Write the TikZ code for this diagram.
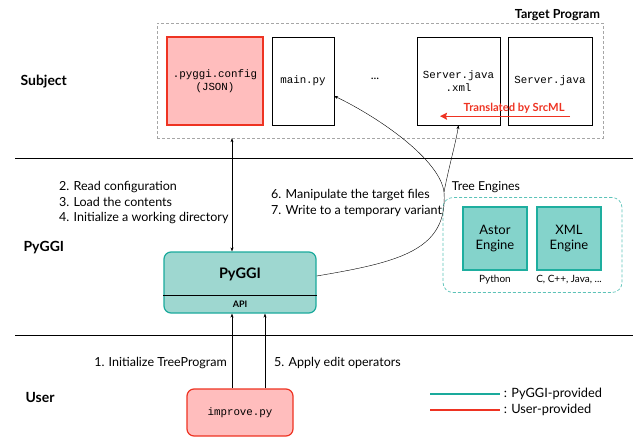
\documentclass[tikz,border=0pt]{standalone}
\usepackage{fontspec}
\setmainfont{Lato}
\setmonofont{Liberation Mono}
\usetikzlibrary{arrows.meta}
\definecolor{userred}{HTML}{EE3322}
\definecolor{userpink}{HTML}{FFBDBD}
\definecolor{pyggiteal}{HTML}{1AAA9C}
\definecolor{pyggifill}{HTML}{9ED7D0}
\definecolor{enginefill}{HTML}{84D3CB}
\definecolor{engineline}{HTML}{1EAE9F}
\definecolor{treeline}{HTML}{5CC3B8}
\tikzset{
  filebox/.style={draw, minimum height=88pt, align=center, inner sep=1pt,
    font=\ttfamily\fontsize{10.8}{12.5}\selectfont},
  userbox/.style={draw=userred, fill=userpink, line width=1.2pt},
  layer/.style={anchor=west, font=\bfseries\fontsize{14}{16}\selectfont},
  note/.style={anchor=north west, align=left, inner sep=0pt,
    font=\fontsize{12.5}{15.4}\selectfont},
  engine/.style={draw=engineline, fill=enginefill, line width=1.2pt,
    minimum width=64pt, minimum height=63pt, align=center,
    font=\fontsize{13}{14.5}\selectfont},
  small/.style={font=\fontsize{10}{11}\selectfont}
}
\begin{document}
\begin{tikzpicture}[x=1pt, y=-1pt, >={Stealth[length=4pt,width=3pt]}]
  \useasboundingbox (0,0) rectangle (633,437);
  % layers
  \draw (15,158) -- (633,158);
  \draw (15,335) -- (633,335);
  \node[layer] at (17,82) {Subject};
  \node[layer] at (20,248) {PyGGI};
  \node[layer] at (22,397) {User};

  % target program
  \node[draw=gray!70, densely dashed, minimum width=446pt, minimum height=115pt] (target) at (380,80.5) {};
  \node[anchor=south east, inner sep=2pt, font=\bfseries\fontsize{12.5}{14}\selectfont]
    at ([xshift=-1pt]target.north east) {Target Program};
  \node[filebox, userbox, minimum width=96pt] (config) at (215,81) {.pyggi.config\\(JSON)};
  \node[filebox, minimum width=62pt] (main) at (303,81) {main.py};
  \node[font=\fontsize{12}{12}\selectfont] (dots) at (375,79) {...};
  \node[filebox, minimum width=83pt] (srcxml) at (458.5,81) {Server.java\\.xml};
  \node[filebox, minimum width=84pt] (srcjava) at (550,81) {Server.java};
  \draw[userred, line width=1.3pt, -{Stealth[length=7pt,width=7pt,inset=1pt]}]
    ([xshift=20pt,yshift=9pt]srcjava.south) -- ([xshift=-18.5pt,yshift=9pt]srcxml.south)
    node[pos=0.43, above=1.5pt, inner sep=1pt, font=\bfseries\fontsize{11.2}{12}\selectfont] {Translated by SrcML};

  % pyggi
  \node[draw=pyggiteal, fill=pyggifill, line width=1.2pt, rounded corners=7pt,
    minimum width=152pt, minimum height=61pt] (pyggi) at (240,282.5) {};
  \draw ([yshift=18pt]pyggi.south west) -- ([yshift=18pt]pyggi.south east);
  \node[font=\bfseries\fontsize{14.5}{16}\selectfont] at (240,274) {PyGGI};
  \node[font=\bfseries\fontsize{9}{10}\selectfont] at (240,304.5) {API};
  \draw[<->] ([xshift=-8pt]pyggi.north) -- ([xshift=-8pt]pyggi.north |- target.south);
  \node[note] at (59,181.5) {2. Read configuration\\3. Load the contents\\4. Initialize a working directory};

  % tree engines
  \node[draw=treeline, densely dashed, line width=0.7pt, rounded corners=10pt,
    minimum width=179pt, minimum height=95pt] (trees) at (532.5,245) {};
  \node[anchor=south west, inner sep=1pt, font=\fontsize{12.3}{13}\selectfont]
    at ([xshift=8pt,yshift=3pt]trees.north west) {Tree Engines};
  \node[engine] (astor) at (495,238.5) {Astor\\Engine};
  \node[engine] (xmleng) at (569,238.5) {XML\\Engine};
  \node[small, below=1pt] at (astor.south) {Python};
  \node[small, below=1pt] at (xmleng.south) {C, C++, Java, ...};

  % manipulate the files
  \coordinate (fork) at (444,192);
  \draw ([yshift=6.5pt]pyggi.east) .. controls (400,262) and (448,250) .. (fork);
  \draw[->] (fork) .. controls (440,160) and (380,118) .. ([yshift=-15pt]main.east);
  \draw[->] (fork) .. controls (450,162) and (456,142) .. (srcxml.south);
  \node[note] at (271,189.5) {6. Manipulate the target files\\7. Write to a temporary variant};

  % user
  \node[userbox, rounded corners=7pt, minimum width=106pt, minimum height=47pt,
    font=\ttfamily\fontsize{10.8}{12}\selectfont] (improve) at (240,412.5) {improve.py};
  \draw[->] ([xshift=-8pt]improve.north) -- ([xshift=-8pt]improve.north |- pyggi.south);
  \draw[->] ([xshift=25pt]improve.north) -- ([xshift=25pt]improve.north |- pyggi.south);
  \node[anchor=east, inner sep=2pt, font=\fontsize{12.5}{13}\selectfont] at (229,363) {1. Initialize TreeProgram};
  \node[anchor=west, inner sep=2pt, font=\fontsize{12.5}{13}\selectfont] at (272,363) {5. Apply edit operators};

  % legend
  \coordinate (tealA) at (430,394);
  \coordinate (tealB) at (500,394);
  \coordinate (redA) at (430,410);
  \coordinate (redB) at (500,410);
  \draw[pyggiteal, line width=1.5pt] (tealA) -- (tealB)
    node[right, black, inner sep=3pt, font=\fontsize{12.8}{13}\selectfont] {: PyGGI-provided};
  \draw[userred, line width=1.5pt] (redA) -- (redB)
    node[right, black, inner sep=3pt, font=\fontsize{12.8}{13}\selectfont] {: User-provided};
\end{tikzpicture}
\end{document}
